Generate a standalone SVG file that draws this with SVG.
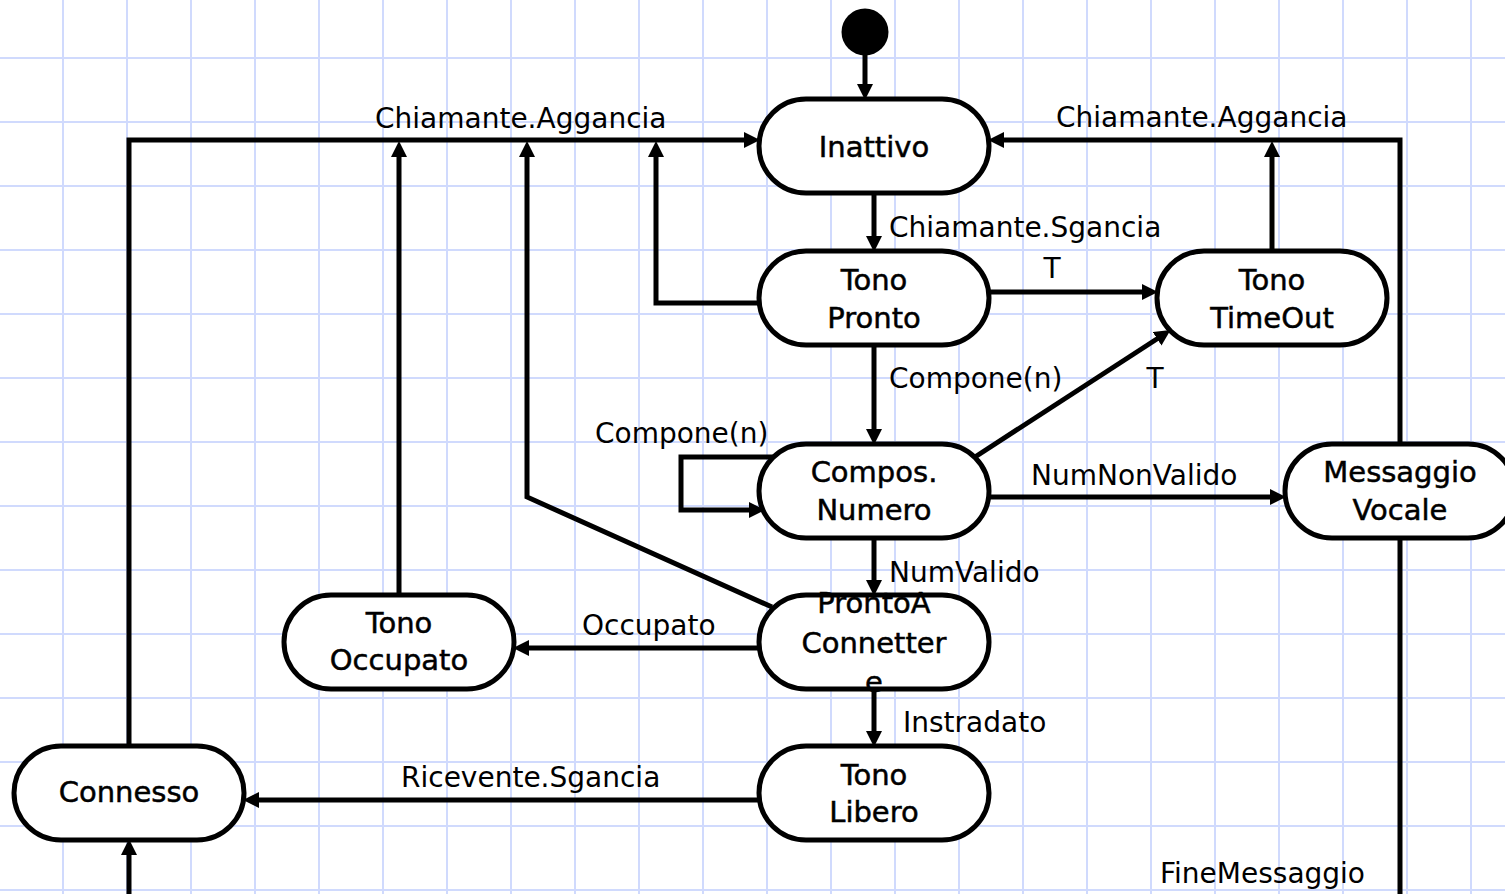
<svg xmlns="http://www.w3.org/2000/svg" width="1505" height="894" viewBox="0 0 1505 894">
  <style>
    .grid line { stroke: #d0dafd; stroke-width: 2; }
    .node rect { fill: #ffffff; stroke: #000000; stroke-width: 5; }
    .node text { font-family: "DejaVu Sans", Verdana, sans-serif; font-size: 29px; fill: #000; stroke: #000; stroke-width: 0.5; text-anchor: middle; }
    .edge { fill: none; stroke: #000000; stroke-width: 5; stroke-linejoin: miter; }
    .arrow { marker-end: url(#head); }
    .lbl { font-family: "DejaVu Sans", Verdana, sans-serif; font-size: 28px; fill: #000; }
  </style>
  <defs>
    <marker id="head" markerUnits="userSpaceOnUse" markerWidth="17" markerHeight="17" refX="7" refY="8" orient="auto">
      <path d="M0,0 L16,8 L0,16 z" fill="#000"/>
    </marker>
  </defs>

  <rect x="0" y="0" width="1505" height="894" fill="#ffffff"/>

  <!-- background squared paper -->
  <g class="grid">
    <line x1="63" y1="0" x2="63" y2="894"/>
    <line x1="127" y1="0" x2="127" y2="894"/>
    <line x1="191" y1="0" x2="191" y2="894"/>
    <line x1="255" y1="0" x2="255" y2="894"/>
    <line x1="319" y1="0" x2="319" y2="894"/>
    <line x1="383" y1="0" x2="383" y2="894"/>
    <line x1="447" y1="0" x2="447" y2="894"/>
    <line x1="511" y1="0" x2="511" y2="894"/>
    <line x1="575" y1="0" x2="575" y2="894"/>
    <line x1="639" y1="0" x2="639" y2="894"/>
    <line x1="703" y1="0" x2="703" y2="894"/>
    <line x1="767" y1="0" x2="767" y2="894"/>
    <line x1="831" y1="0" x2="831" y2="894"/>
    <line x1="895" y1="0" x2="895" y2="894"/>
    <line x1="959" y1="0" x2="959" y2="894"/>
    <line x1="1023" y1="0" x2="1023" y2="894"/>
    <line x1="1087" y1="0" x2="1087" y2="894"/>
    <line x1="1151" y1="0" x2="1151" y2="894"/>
    <line x1="1215" y1="0" x2="1215" y2="894"/>
    <line x1="1279" y1="0" x2="1279" y2="894"/>
    <line x1="1343" y1="0" x2="1343" y2="894"/>
    <line x1="1407" y1="0" x2="1407" y2="894"/>
    <line x1="1471" y1="0" x2="1471" y2="894"/>
    <line x1="0" y1="58" x2="1505" y2="58"/>
    <line x1="0" y1="122" x2="1505" y2="122"/>
    <line x1="0" y1="186" x2="1505" y2="186"/>
    <line x1="0" y1="250" x2="1505" y2="250"/>
    <line x1="0" y1="314" x2="1505" y2="314"/>
    <line x1="0" y1="378" x2="1505" y2="378"/>
    <line x1="0" y1="442" x2="1505" y2="442"/>
    <line x1="0" y1="506" x2="1505" y2="506"/>
    <line x1="0" y1="570" x2="1505" y2="570"/>
    <line x1="0" y1="634" x2="1505" y2="634"/>
    <line x1="0" y1="698" x2="1505" y2="698"/>
    <line x1="0" y1="762" x2="1505" y2="762"/>
    <line x1="0" y1="826" x2="1505" y2="826"/>
    <line x1="0" y1="890" x2="1505" y2="890"/>
  </g>

  <!-- transitions -->
  <g id="connectors">
    <circle id="start" cx="865" cy="32" r="23.5" fill="#000"/>
    <path class="edge arrow" d="M865,55 V91"/>
    <!-- Connesso -> Inattivo -->
    <path class="edge arrow" d="M129,746 V140 H751"/>
    <!-- Tono Occupato -> Inattivo -->
    <path class="edge arrow" d="M399,595 V150"/>
    <!-- ProntoA Connettere -> Inattivo -->
    <path class="edge arrow" d="M772,607 L527,497 V150"/>
    <!-- Tono Pronto -> Inattivo -->
    <path class="edge arrow" d="M760,303 H656 V150"/>
    <!-- Messaggio Vocale -> Inattivo -->
    <path class="edge arrow" d="M1400,900 V140 H997"/>
    <!-- Tono TimeOut -> Inattivo -->
    <path class="edge arrow" d="M1272,251 V150"/>
    <!-- Inattivo -> Tono Pronto -->
    <path class="edge arrow" d="M874,193 V243"/>
    <!-- Tono Pronto -> Tono TimeOut -->
    <path class="edge arrow" d="M988,292 H1149"/>
    <!-- Tono Pronto -> Compos. Numero -->
    <path class="edge arrow" d="M874,345 V436"/>
    <!-- Compos. Numero -> Tono TimeOut -->
    <path class="edge arrow" d="M975,457 L1163,335"/>
    <!-- Compos. Numero self loop -->
    <path class="edge arrow" d="M774,457 H681 V510 H756"/>
    <!-- Compos. Numero -> Messaggio Vocale -->
    <path class="edge arrow" d="M988,497 H1277"/>
    <!-- Compos. Numero -> ProntoA Connettere -->
    <path class="edge arrow" d="M874,538 V587"/>
    <!-- ProntoA Connettere -> Tono Occupato -->
    <path class="edge arrow" d="M760,648 H522"/>
    <!-- ProntoA Connettere -> Tono Libero -->
    <path class="edge arrow" d="M874,689 V738"/>
    <!-- Tono Libero -> Connesso -->
    <path class="edge arrow" d="M760,800 H252"/>
    <!-- incoming to Connesso from below -->
    <path class="edge arrow" d="M129,900 V848"/>

    <text class="lbl" x="375" y="128">Chiamante.Aggancia</text>
    <text class="lbl" x="1056" y="127">Chiamante.Aggancia</text>
    <text class="lbl" x="889" y="237">Chiamante.Sgancia</text>
    <text class="lbl" x="1052" y="278" text-anchor="middle">T</text>
    <text class="lbl" x="889" y="388">Compone(n)</text>
    <text class="lbl" x="1155" y="388" text-anchor="middle">T</text>
    <text class="lbl" x="595" y="443">Compone(n)</text>
    <text class="lbl" x="1031" y="485">NumNonValido</text>
    <text class="lbl" x="889" y="582">NumValido</text>
    <text class="lbl" x="582" y="635">Occupato</text>
    <text class="lbl" x="903" y="732">Instradato</text>
    <text class="lbl" x="401" y="787">Ricevente.Sgancia</text>
    <text class="lbl" x="1160" y="883">FineMessaggio</text>
  </g>

  <!-- states -->
  <g id="inattivo" class="node">
    <rect x="759" y="99" width="230" height="94" rx="47"/>
    <text x="874" y="157">Inattivo</text>
  </g>
  <g id="tono-pronto" class="node">
    <rect x="759" y="251" width="230" height="94" rx="47"/>
    <text x="874" y="290">Tono</text>
    <text x="874" y="328">Pronto</text>
  </g>
  <g id="tono-timeout" class="node">
    <rect x="1157" y="251" width="230" height="94" rx="47"/>
    <text x="1272" y="290">Tono</text>
    <text x="1272" y="328">TimeOut</text>
  </g>
  <g id="compos-numero" class="node">
    <rect x="759" y="444" width="230" height="94" rx="47"/>
    <text x="874" y="482">Compos.</text>
    <text x="874" y="520">Numero</text>
  </g>
  <g id="messaggio-vocale" class="node">
    <rect x="1285" y="444" width="230" height="94" rx="47"/>
    <text x="1400" y="482">Messaggio</text>
    <text x="1400" y="520">Vocale</text>
  </g>
  <g id="pronto-connettere" class="node">
    <rect x="759" y="595" width="230" height="94" rx="47"/>
    <text x="874" y="613">ProntoA</text>
    <text x="874" y="653">Connetter</text>
    <text x="874" y="692">e</text>
  </g>
  <g id="tono-occupato" class="node">
    <rect x="284" y="595" width="230" height="94" rx="47"/>
    <text x="399" y="633">Tono</text>
    <text x="399" y="670">Occupato</text>
  </g>
  <g id="tono-libero" class="node">
    <rect x="759" y="746" width="230" height="94" rx="47"/>
    <text x="874" y="785">Tono</text>
    <text x="874" y="822">Libero</text>
  </g>
  <g id="connesso" class="node">
    <rect x="14" y="746" width="230" height="94" rx="47"/>
    <text x="129" y="802">Connesso</text>
  </g>
</svg>
